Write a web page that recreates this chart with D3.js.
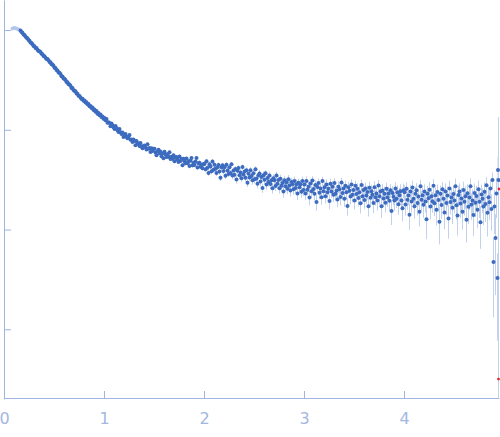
<!DOCTYPE html>
<html>
<head>
<meta charset="utf-8">
<script src="https://cdn.jsdelivr.net/npm/d3@7"></script>
<style>
  body { margin: 0; background: #fff; }
  svg { display: block; }
  .axis path, .axis line { stroke: #9fb4df; }
  .axis text { fill: #a3b7e1; font-family: "DejaVu Sans", sans-serif; font-size: 16px; }
</style>
</head>
<body>
<div id="chart"></div>
<script>
// points left out of the fit (drawn pale)
var qExcluded = [0.08, 0.10, 0.12, 0.14];
var iExcluded = [1.035, 1.05, 1.035, 1.015];
var eExcluded = [0.005, 0.005, 0.005, 0.005];

var q = [
  0.16,0.17,0.18,0.19,0.20,0.21,0.22,0.23,0.24,0.25,0.26,0.27,0.28,0.29,0.30,0.31,0.32,0.33,0.34,0.35,
  0.36,0.37,0.38,0.39,0.40,0.41,0.42,0.43,0.44,0.45,0.46,0.47,0.48,0.49,0.50,0.51,0.52,0.53,0.54,0.55,
  0.56,0.57,0.58,0.59,0.60,0.61,0.62,0.63,0.64,0.65,0.66,0.67,0.68,0.69,0.70,0.71,0.72,0.73,0.74,0.75,
  0.76,0.77,0.78,0.79,0.80,0.81,0.82,0.83,0.84,0.85,0.86,0.87,0.88,0.89,0.90,0.91,0.92,0.93,0.94,0.95,
  0.96,0.97,0.98,0.99,
  1.00,1.01,1.02,1.03,1.04,1.05,1.06,1.07,1.08,1.09,1.10,1.11,1.12,1.13,1.14,1.15,1.16,1.17,1.18,1.19,
  1.20,1.21,1.22,1.23,1.24,1.25,1.26,1.27,1.28,1.29,1.30,1.31,1.32,1.33,1.34,1.35,1.36,1.37,1.38,1.39,
  1.40,1.41,1.42,1.43,1.44,1.45,1.46,1.47,1.48,1.49,1.50,1.51,1.52,1.53,1.54,1.55,1.56,1.57,1.58,1.59,
  1.60,1.61,1.62,1.63,1.64,1.65,1.66,1.67,1.68,1.69,1.70,1.71,1.72,1.73,1.74,1.75,1.76,1.77,1.78,1.79,
  1.80,1.81,1.82,1.83,1.84,1.85,1.86,1.87,1.88,1.89,1.90,1.91,1.92,1.93,1.94,1.95,1.96,1.97,1.98,1.99,
  2.00,2.01,2.02,2.03,2.04,2.05,2.06,2.07,2.08,2.09,2.10,2.11,2.12,2.13,2.14,2.15,2.16,2.17,2.18,2.19,
  2.20,2.21,2.22,2.23,2.24,2.25,2.26,2.27,2.28,2.29,2.30,2.31,2.32,2.33,2.34,2.35,2.36,2.37,2.38,2.39,
  2.40,2.41,2.42,2.43,2.44,2.45,2.46,2.47,2.48,2.49,2.50,2.51,2.52,2.53,2.54,2.55,2.56,2.57,2.58,2.59,
  2.60,2.61,2.62,2.63,2.64,2.65,2.66,2.67,2.68,2.69,2.70,2.71,2.72,2.73,2.74,2.75,2.76,2.77,2.78,2.79,
  2.80,2.81,2.82,2.83,2.84,2.85,2.86,2.87,2.88,2.89,2.90,2.91,2.92,2.93,2.94,2.95,2.96,2.97,2.98,2.99,
  3.00,3.01,3.02,3.03,3.04,3.05,3.06,3.07,3.08,3.09,3.10,3.11,3.12,3.13,3.14,3.15,3.16,3.17,3.18,3.19,
  3.20,3.21,3.22,3.23,3.24,3.25,3.26,3.27,3.28,3.29,3.30,3.31,3.32,3.33,3.34,3.35,3.36,3.37,3.38,3.39,
  3.40,3.41,3.42,3.43,3.44,3.45,3.46,3.47,3.48,3.49,3.50,3.51,3.52,3.53,3.54,3.55,3.56,3.57,3.58,3.59,
  3.60,3.61,3.62,3.63,3.64,3.65,3.66,3.67,3.68,3.69,3.70,3.71,3.72,3.73,3.74,3.75,3.76,3.77,3.78,3.79,
  3.80,3.81,3.82,3.83,3.84,3.85,3.86,3.87,3.88,3.89,3.90,3.91,3.92,3.93,3.94,3.95,3.96,3.97,3.98,3.99,
  4.00,4.01,4.02,4.03,4.04,4.05,4.06,4.07,4.08,4.09,4.10,4.11,4.12,4.13,4.14,4.15,4.16,4.17,4.18,4.19,
  4.20,4.21,4.22,4.23,4.24,4.25,4.26,4.27,4.28,4.29,4.30,4.31,4.32,4.33,4.34,4.35,4.36,4.37,4.38,4.39,
  4.40,4.41,4.42,4.43,4.44,4.45,4.46,4.47,4.48,4.49,4.50,4.51,4.52,4.53,4.54,4.55,4.56,4.57,4.58,4.59,
  4.60,4.61,4.62,4.63,4.64,4.65,4.66,4.67,4.68,4.69,4.70,4.71,4.72,4.73,4.74,4.75,4.76,4.77,4.78,4.79,
  4.80,4.81,4.82,4.83,4.84,4.85,4.86,4.87,
  4.88,4.89,4.90,4.91,4.92,4.93,4.935,4.94
];

var intensity = [
  0.990,0.955,0.941,0.904,0.893,0.861,0.835,0.826,0.794,0.783,0.750,0.741,0.722,0.693,0.688,0.662,0.659,0.634,0.617,0.614,
  0.601,0.577,0.572,0.549,0.547,0.526,0.512,0.511,0.497,0.478,0.475,0.454,0.451,0.438,0.418,0.416,0.397,0.394,0.375,0.372,
  0.362,0.345,0.343,0.327,0.325,0.316,0.301,0.300,0.286,0.285,0.277,0.263,0.263,0.250,0.245,0.243,0.231,0.230,0.219,0.218,
  0.211,0.203,0.205,0.195,0.197,0.188,0.189,0.180,0.181,0.172,0.173,0.165,0.167,0.158,0.160,0.152,0.154,0.145,0.147,0.140,
  0.142,0.134,0.136,0.129,
  0.1316,0.1247,0.1279,0.1174,0.1190,0.1172,0.1083,0.1154,0.1111,0.1058,0.1018,0.1092,0.1040,0.0988,0.0948,0.1018,0.0942,0.0909,0.0941,0.0846,
  0.0896,0.0909,0.0852,0.0823,0.0852,0.0888,0.0794,0.0798,0.0756,0.0798,0.0772,0.0699,0.0771,0.0723,0.0733,0.0689,0.0735,0.0679,0.0653,0.0688,
  0.0695,0.0668,0.0636,0.0715,0.0644,0.0657,0.0600,0.0651,0.0614,0.0646,0.0646,0.0592,0.0556,0.0610,0.0629,0.0581,0.0605,0.0542,0.0579,0.0517,
  0.0603,0.0570,0.0533,0.0567,0.0535,0.0595,0.0510,0.0537,0.0512,0.0555,0.0484,0.0526,0.0532,0.0503,0.0474,0.0540,0.0487,0.0509,0.0442,0.0512,
  0.0485,0.0463,0.0514,0.0463,0.0483,0.0433,0.0488,0.0522,0.0440,0.0466,0.0444,0.0482,0.0521,0.0419,0.0461,0.0467,0.0425,0.0444,0.0412,0.0454,
  0.0455,0.0401,0.0483,0.0416,0.0369,0.0451,0.0429,0.0383,0.0482,0.0398,0.0446,0.0407,0.0368,0.0421,0.0444,0.0381,0.0330,0.0420,0.0442,0.0386,
  0.0420,0.0347,0.0445,0.0391,0.0360,0.0422,0.0368,0.0452,0.0348,0.0391,0.0355,0.0404,0.0318,0.0389,0.0414,0.0351,0.0373,0.0327,0.0423,0.0356,
  0.0381,0.0330,0.0392,0.0295,0.0362,0.0333,0.0394,0.0345,0.0312,0.0367,0.0319,0.0403,0.0325,0.0288,0.0351,0.0364,0.0303,0.0336,0.0261,0.0351,
  0.0315,0.0366,0.0283,0.0329,0.0299,0.0348,0.0286,0.0312,0.0260,0.0327,0.0311,0.0273,0.0348,0.0288,0.0314,0.0259,0.0323,0.0274,0.0293,0.0240,
  0.0312,0.0272,0.0297,0.0257,0.0319,0.0276,0.0246,0.0299,0.0284,0.0254,0.0307,0.0261,0.0284,0.0230,0.0294,0.0265,0.0284,0.0239,0.0306,0.0249,
  0.0282,0.0230,0.0307,0.0251,0.0269,0.0210,0.0289,0.0242,0.0310,0.0255,0.0229,0.0279,0.0189,0.0267,0.0292,0.0234,0.0258,0.0211,0.0306,0.0242,
  0.0266,0.0216,0.0283,0.0236,0.0257,0.0193,0.0287,0.0241,0.0269,0.0223,0.0292,0.0229,0.0245,0.0200,0.0268,0.0254,0.0212,0.0296,0.0232,0.0258,
  0.0204,0.0274,0.0237,0.0172,0.0266,0.0245,0.0214,0.0283,0.0223,0.0249,0.0196,0.0274,0.0227,0.0257,0.0207,0.0236,0.0183,0.0280,0.0215,0.0249,
  0.0198,0.0258,0.0219,0.0238,0.0171,0.0262,0.0208,0.0242,0.0223,0.0184,0.0266,0.0211,0.0230,0.0195,0.0276,0.0216,0.0241,0.0171,0.0246,0.0205,
  0.0229,0.0186,0.0256,0.0210,0.0230,0.0194,0.0247,0.0153,0.0232,0.0213,0.0195,0.0258,0.0204,0.0236,0.0179,0.0221,0.0242,0.0196,0.0163,0.0247,
  0.0236,0.0178,0.0256,0.0199,0.0219,0.0141,0.0241,0.0191,0.0264,0.0204,0.0171,0.0229,0.0248,0.0184,0.0214,0.0151,0.0271,0.0199,0.0221,0.0177,
  0.0240,0.0191,0.0127,0.0228,0.0206,0.0251,0.0170,0.0216,0.0192,0.0274,0.0183,0.0220,0.0158,0.0238,0.0198,0.0120,0.0229,0.0176,0.0253,0.0204,
  0.0148,0.0241,0.0185,0.0219,0.0129,0.0258,0.0189,0.0210,0.0165,0.0227,0.0196,0.0272,0.0175,0.0138,0.0222,0.0240,0.0182,0.0205,0.0151,0.0249,
  0.0190,0.0216,0.0125,0.0231,0.0169,0.0209,0.0271,0.0178,0.0196,0.0140,0.0233,0.0186,0.0217,0.0158,0.0253,0.0190,0.0118,0.0224,0.0203,0.0170,
  0.0239,0.0180,0.0278,0.0147,0.0211,0.0188,0.0258,0.0161,
  0.0313,0.00472,0.0170,0.0082,0.0230,0.00327,0.0395,0.0313
];

var sigma = [
  0.0058,0.0056,0.0055,0.0053,0.0052,0.0051,0.0049,0.0048,0.0047,0.0046,0.0045,0.0044,0.0043,0.0042,0.0041,0.0040,0.0039,0.0038,0.0037,0.0037,
  0.0036,0.0035,0.0034,0.0034,0.0033,0.0032,0.0031,0.0031,0.0030,0.0029,0.0029,0.0028,0.0027,0.0027,0.0026,0.0026,0.0025,0.0024,0.0024,0.0023,
  0.0023,0.0022,0.0022,0.0021,0.0021,0.0020,0.0020,0.0020,0.0019,0.0019,0.0019,0.0018,0.0018,0.0018,0.0017,0.0017,0.0017,0.0017,0.0016,0.0016,
  0.0016,0.0016,0.0016,0.0015,0.0015,0.0015,0.0015,0.0015,0.0015,0.0015,0.0015,0.0015,0.0015,0.0014,0.0014,0.0014,0.0014,0.0014,0.0014,0.0014,
  0.0014,0.0014,0.0014,0.0014,
  0.0021,0.0020,0.0022,0.0020,0.0021,0.0020,0.0022,0.0021,0.0020,0.0021,0.0020,0.0022,0.0021,0.0020,0.0021,0.0022,0.0020,0.0021,0.0020,0.0022,
  0.0021,0.0020,0.0022,0.0021,0.0020,0.0022,0.0021,0.0020,0.0021,0.0022,0.0020,0.0021,0.0022,0.0020,0.0021,0.0022,0.0021,0.0020,0.0022,0.0021,
  0.0021,0.0022,0.0020,0.0021,0.0023,0.0021,0.0020,0.0022,0.0021,0.0022,0.0022,0.0021,0.0023,0.0021,0.0022,0.0020,0.0022,0.0023,0.0021,0.0022,
  0.0021,0.0023,0.0022,0.0021,0.0023,0.0022,0.0021,0.0023,0.0022,0.0021,0.0023,0.0022,0.0021,0.0023,0.0022,0.0024,0.0021,0.0023,0.0022,0.0023,
  0.0022,0.0024,0.0023,0.0021,0.0023,0.0024,0.0022,0.0023,0.0024,0.0022,0.0023,0.0024,0.0022,0.0024,0.0023,0.0025,0.0022,0.0024,0.0023,0.0025,
  0.0026,0.0025,0.0027,0.0026,0.0025,0.0028,0.0026,0.0025,0.0027,0.0026,0.0027,0.0026,0.0025,0.0028,0.0026,0.0027,0.0025,0.0028,0.0026,0.0027,
  0.0028,0.0026,0.0027,0.0029,0.0026,0.0028,0.0027,0.0026,0.0029,0.0027,0.0028,0.0027,0.0029,0.0026,0.0028,0.0027,0.0029,0.0028,0.0027,0.0030,
  0.0028,0.0027,0.0029,0.0028,0.0030,0.0027,0.0029,0.0028,0.0030,0.0029,0.0029,0.0028,0.0030,0.0029,0.0028,0.0031,0.0029,0.0030,0.0028,0.0031,
  0.0030,0.0029,0.0031,0.0028,0.0030,0.0032,0.0029,0.0030,0.0031,0.0029,0.0031,0.0030,0.0032,0.0029,0.0031,0.0030,0.0032,0.0031,0.0029,0.0032,
  0.0031,0.0030,0.0032,0.0031,0.0033,0.0030,0.0032,0.0031,0.0033,0.0032,0.0032,0.0031,0.0033,0.0032,0.0030,0.0034,0.0032,0.0031,0.0033,0.0032,
  0.0033,0.0032,0.0034,0.0031,0.0033,0.0035,0.0032,0.0034,0.0033,0.0032,0.0034,0.0033,0.0035,0.0032,0.0034,0.0033,0.0035,0.0034,0.0032,0.0035,
  0.0034,0.0033,0.0035,0.0034,0.0036,0.0033,0.0035,0.0034,0.0036,0.0035,0.0034,0.0036,0.0035,0.0033,0.0036,0.0035,0.0037,0.0034,0.0036,0.0035,
  0.0036,0.0035,0.0037,0.0034,0.0036,0.0038,0.0035,0.0037,0.0036,0.0035,0.0037,0.0036,0.0038,0.0035,0.0037,0.0036,0.0038,0.0037,0.0035,0.0038,
  0.0037,0.0036,0.0038,0.0039,0.0036,0.0038,0.0037,0.0039,0.0036,0.0038,0.0039,0.0037,0.0038,0.0040,0.0037,0.0039,0.0038,0.0040,0.0039,0.0037,
  0.0040,0.0038,0.0039,0.0041,0.0038,0.0040,0.0039,0.0042,0.0040,0.0038,0.0041,0.0039,0.0040,0.0042,0.0039,0.0041,0.0043,0.0040,0.0042,0.0041,
  0.0042,0.0040,0.0043,0.0041,0.0044,0.0042,0.0040,0.0043,0.0045,0.0042,0.0043,0.0041,0.0044,0.0046,0.0042,0.0044,0.0043,0.0045,0.0042,0.0046,
  0.0044,0.0043,0.0047,0.0045,0.0043,0.0046,0.0044,0.0048,0.0045,0.0047,0.0046,0.0044,0.0048,0.0045,0.0047,0.0049,0.0046,0.0048,0.0045,0.0050,
  0.0047,0.0049,0.0046,0.0050,0.0048,0.0051,0.0047,0.0049,0.0052,0.0048,0.0050,0.0052,0.0049,0.0051,0.0053,0.0050,0.0052,0.0054,0.0051,0.0053,
  0.0052,0.0055,0.0051,0.0054,0.0056,0.0052,0.0055,0.0053,0.0057,0.0054,0.0056,0.0053,0.0058,0.0055,0.0057,0.0060,0.0054,0.0058,0.0056,0.0059,
  0.0058,0.0061,0.0057,0.0062,0.0059,0.0063,0.0060,0.0064,
  0.0060,0.0034,0.0080,0.0060,0.0100,0.0025,0.0140,0.1030
];

// points flagged red at the high-q end
var qFlagged = [4.945, 4.94];
var iFlagged = [0.0255, 0.000317];

var xTicks = [0, 1, 2, 3, 4];
var yTicks = [1, 0.1, 0.01, 0.001];

var width = 500, height = 437;

var svg = d3.select('#chart')
  .append('svg')
  .attr('width', width)
  .attr('height', height);

var x = d3.scaleLinear().domain([0, 4.95]).range([4, 499]);
var y = d3.scaleLog().domain([0.0002, 2]).range([399, 0]);

svg.append('clipPath')
  .attr('id', 'plot-clip')
  .append('rect')
  .attr('x', 4.5)
  .attr('y', 0)
  .attr('width', width - 4.5)
  .attr('height', 398.5);

// axes
svg.append('g')
  .attr('class', 'axis')
  .attr('transform', 'translate(4,0)')
  .call(d3.axisLeft(y).tickValues(yTicks).tickSizeInner(-7).tickSizeOuter(0).tickFormat(''));

svg.append('g')
  .attr('class', 'axis')
  .attr('transform', 'translate(0,398)')
  .call(d3.axisBottom(x).tickValues(xTicks).tickSizeInner(-7).tickSizeOuter(0).tickPadding(15).tickFormat(d3.format('d')));

var plot = svg.append('g').attr('clip-path', 'url(#plot-clip)');

function lower(v, e) {
  return Math.max(v - e, 0.00001);
}

// error bars
plot.selectAll('line.err-x')
  .data(qExcluded)
  .enter()
  .append('line')
  .attr('class', 'err-x')
  .attr('x1', function(d) { return x(d) + 0.5; })
  .attr('x2', function(d) { return x(d) + 0.5; })
  .attr('y1', function(d, i) { return y(iExcluded[i] + eExcluded[i]); })
  .attr('y2', function(d, i) { return y(lower(iExcluded[i], eExcluded[i])); })
  .attr('stroke', '#dfe7f5')
  .attr('stroke-width', 1);

plot.selectAll('line.err')
  .data(q)
  .enter()
  .append('line')
  .attr('class', 'err')
  .attr('x1', function(d) { return x(d) + 0.5; })
  .attr('x2', function(d) { return x(d) + 0.5; })
  .attr('y1', function(d, i) { return y(intensity[i] + sigma[i]); })
  .attr('y2', function(d, i) { return y(lower(intensity[i], sigma[i])); })
  .attr('stroke', '#c3d2ec')
  .attr('stroke-width', 1);

// points
plot.selectAll('circle.excluded')
  .data(qExcluded)
  .enter()
  .append('circle')
  .attr('class', 'excluded')
  .attr('cx', function(d) { return x(d) + 0.5; })
  .attr('cy', function(d, i) { return y(iExcluded[i]); })
  .attr('r', 2)
  .attr('fill', '#b4c7e7');

plot.selectAll('circle.pt')
  .data(q)
  .enter()
  .append('circle')
  .attr('class', 'pt')
  .attr('cx', function(d) { return x(d) + 0.5; })
  .attr('cy', function(d, i) { return y(intensity[i]); })
  .attr('r', 2)
  .attr('fill', '#3c6bbf');

plot.selectAll('circle.flag')
  .data(qFlagged)
  .enter()
  .append('circle')
  .attr('class', 'flag')
  .attr('cx', function(d) { return x(d) + 0.5; })
  .attr('cy', function(d, i) { return y(iFlagged[i]); })
  .attr('r', 1.4)
  .attr('fill', '#e3262b');
</script>
</body>
</html>
